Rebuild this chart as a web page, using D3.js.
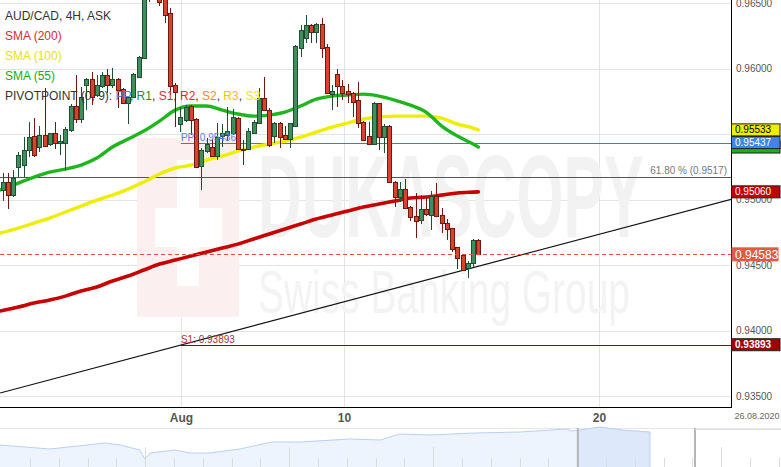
<!DOCTYPE html>
<html><head><meta charset="utf-8">
<script src="https://cdn.jsdelivr.net/npm/d3@7"></script>
<style>body{margin:0;background:#fff}svg{display:block;font-family:"Liberation Sans",Arial,sans-serif}</style>
</head><body><svg id="c" width="781" height="467"></svg>
<script>
// ---- DATA ----
const openP  = [0.95074,0.95135,0.95035,0.95242,0.95264,0.95379,0.95486,0.95402,0.95493,0.95425,0.95509,0.95432,0.95432,0.95532,0.95715,0.95616,0.95875,0.95921,0.95799,0.95867,0.95951,0.95875,0.95921,0.95845,0.95738,0.95783,0.95936,0.96081,0.96555,0.96677,0.96616,0.96539,0.96425,0.95875,0.95577,0.95608,0.95715,0.95616,0.95257,0.95371,0.95402,0.95333,0.95486,0.95493,0.95509,0.95623,0.95387,0.95387,0.95509,0.95585,0.95776,0.95684,0.95486,0.95585,0.95493,0.95463,0.95562,0.96158,0.96234,0.96333,0.96280,0.96341,0.96165,0.95806,0.95959,0.95867,0.95829,0.95814,0.95761,0.95593,0.95486,0.95425,0.95738,0.95471,0.95562,0.95135,0.95020,0.95081,0.94944,0.94875,0.94845,0.94929,0.94883,0.95028,0.94883,0.94822,0.94783,0.94638,0.94577,0.94471,0.94516,0.94692];
const closeP = [0.95135,0.95035,0.95165,0.95341,0.95379,0.95478,0.95341,0.95493,0.95409,0.95509,0.95432,0.95448,0.95539,0.95715,0.95616,0.95783,0.95921,0.95783,0.95875,0.95951,0.95875,0.95921,0.95837,0.95738,0.95783,0.95959,0.96089,0.96539,0.96677,0.96616,0.96509,0.96409,0.95867,0.95822,0.95631,0.95707,0.95608,0.95249,0.95379,0.95425,0.95333,0.95471,0.95509,0.95524,0.95631,0.95387,0.95379,0.95524,0.95593,0.95776,0.95684,0.95417,0.95585,0.95478,0.95463,0.95585,0.96173,0.96295,0.96333,0.96280,0.96341,0.96158,0.95814,0.95829,0.95867,0.95814,0.95806,0.95745,0.95585,0.95455,0.95425,0.95738,0.95471,0.95562,0.95135,0.95020,0.95081,0.94936,0.94867,0.94837,0.94929,0.94890,0.95028,0.94875,0.94822,0.94776,0.94623,0.94554,0.94463,0.94516,0.94692,0.94583];
const highP  = [0.95203,0.95203,0.95226,0.95364,0.95478,0.95593,0.95623,0.95562,0.95852,0.95509,0.95593,0.95493,0.95555,0.95730,0.95951,0.95860,0.95929,0.95974,0.95951,0.95974,0.95997,0.96005,0.95929,0.95852,0.95791,0.95967,0.96097,0.96562,0.96753,0.96753,0.96646,0.96585,0.96463,0.95890,0.95707,0.95722,0.95722,0.95623,0.95394,0.95471,0.95463,0.95585,0.95577,0.95707,0.95692,0.95631,0.95455,0.95547,0.95608,0.95852,0.95936,0.95700,0.95593,0.95593,0.95562,0.95585,0.96181,0.96333,0.96409,0.96341,0.96348,0.96387,0.96188,0.95875,0.95997,0.95913,0.95883,0.95822,0.95898,0.95600,0.95593,0.95745,0.95738,0.95577,0.95570,0.95142,0.95135,0.95158,0.94951,0.95051,0.95035,0.95013,0.95066,0.95127,0.94936,0.94852,0.94783,0.94638,0.94585,0.94532,0.94700,0.94700];
const lowP   = [0.94990,0.94929,0.95020,0.95173,0.95173,0.95326,0.95326,0.95364,0.95402,0.95409,0.95387,0.95341,0.95226,0.95516,0.95585,0.95585,0.95684,0.95722,0.95783,0.95852,0.95814,0.95852,0.95700,0.95730,0.95577,0.95776,0.95929,0.96074,0.96509,0.96585,0.96478,0.96348,0.95799,0.95555,0.95516,0.95593,0.95493,0.95242,0.95074,0.95356,0.95326,0.95303,0.95402,0.95455,0.95493,0.95379,0.95264,0.95379,0.95509,0.95577,0.95677,0.95402,0.95432,0.95394,0.95455,0.95394,0.95555,0.96089,0.96196,0.96196,0.96196,0.96081,0.95806,0.95684,0.95707,0.95761,0.95738,0.95631,0.95547,0.95448,0.95417,0.95417,0.95379,0.95356,0.95127,0.94944,0.94982,0.94929,0.94837,0.94707,0.94814,0.94875,0.94768,0.94867,0.94745,0.94692,0.94600,0.94471,0.94455,0.94402,0.94486,0.94577];

const smaIdx = [-0.5,3,6,9,12,15,18,21,24,27,30,33,36,39,42,45,48,51,54,57,60,63,66,69,72,75,78,81,84,87,90,91];
const sma200 = [0.94150,0.94180,0.94211,0.94234,0.94264,0.94303,0.94333,0.94379,0.94417,0.94463,0.94509,0.94539,0.94570,0.94600,0.94631,0.94661,0.94700,0.94738,0.94776,0.94814,0.94852,0.94883,0.94913,0.94944,0.94967,0.94990,0.95013,0.95020,0.95035,0.95051,0.95058,0.95060];
const sma100 = [0.94745,0.94783,0.94822,0.94860,0.94906,0.94951,0.94997,0.95035,0.95081,0.95135,0.95196,0.95242,0.95264,0.95303,0.95333,0.95371,0.95402,0.95425,0.95448,0.95478,0.95516,0.95554,0.95585,0.95616,0.95631,0.95638,0.95638,0.95638,0.95623,0.95577,0.95547,0.95533];
const sma55  = [0.95074,0.95127,0.95173,0.95211,0.95234,0.95264,0.95318,0.95402,0.95463,0.95524,0.95600,0.95684,0.95715,0.95715,0.95684,0.95654,0.95638,0.95646,0.95669,0.95715,0.95768,0.95791,0.95799,0.95806,0.95791,0.95761,0.95722,0.95669,0.95562,0.95486,0.95425,0.95402];

const yTicks = [0.935,0.940,0.945,0.950,0.955,0.960,0.965];
const xTickIdx = [34.1,65.3,114.1];
const xTickLabels = ["Aug","10","20"];
const pivotPP = 0.95436, pivotS1 = 0.93893, fib618 = 0.9517;
const trendIdx = [-0.5,139.4], trendVal = [0.93525,0.95003];
const lastPrice = 0.94583;
const navT = [0,7.7,16.2,18.5,21.5,22.3,23.1,26.9,29.2,32.3,36.9,41.8,46.2,53.8,58.5,61.5,66.2,73.1,80,87.2,88,89.2,92.3,95.8,100];
const navV = [22,18,24,22,17,8,14,17,14,14,18,25,25,28,27,33,32,34,35,38,36,37,40,37,35];
const navWindow = [88.9,100];

// ---- LAYOUT ----
const W=781,H=467, PR=731, PB=407;
const svg=d3.select("#c");
const x=d3.scaleLinear().domain([0,91]).range([2.7,478.3]);
const y=d3.scaleLinear().domain([0.935,0.965]).range([396.2,3.2]);

svg.append("defs").append("clipPath").attr("id","pc").append("rect").attr("x",0).attr("y",0).attr("width",PR).attr("height",PB);

// grid
const grid=svg.append("g").attr("clip-path","url(#pc)");
grid.selectAll(".hg").data(yTicks).join("line").attr("x1",0).attr("x2",PR)
  .attr("y1",d=>Math.round(y(d))+0.5).attr("y2",d=>Math.round(y(d))+0.5).attr("stroke","#e4e4e4");
grid.selectAll(".vg").data(xTickIdx).join("line").attr("y1",0).attr("y2",PB)
  .attr("x1",d=>Math.round(x(d))+0.5).attr("x2",d=>Math.round(x(d))+0.5).attr("stroke","#e4e4e4");

// watermark
const wm=svg.append("g");
wm.append("rect").attr("x",137).attr("y",138).attr("width",102).attr("height",179).attr("fill","#fcefef");
wm.append("rect").attr("x",177).attr("y",160).attr("width",22).attr("height",126).attr("fill","#fff");
wm.append("rect").attr("x",155).attr("y",208).attr("width",67).attr("height",39).attr("fill","#fff");
wm.append("text").attr("x",258).attr("y",237).attr("font-size",117).attr("font-weight",900)
  .attr("textLength",386).attr("lengthAdjust","spacingAndGlyphs").attr("fill","#f2f2f2").text("DUKASCOPY");
wm.append("text").attr("x",258).attr("y",313).attr("font-size",62).attr("font-weight",300)
  .attr("textLength",372).attr("lengthAdjust","spacingAndGlyphs").attr("fill","#f3f3f3").text("Swiss Banking Group");

const plot=svg.append("g").attr("clip-path","url(#pc)");
// fib line
plot.append("line").attr("x1",0).attr("x2",PR).attr("y1",Math.round(y(fib618))+0.5).attr("y2",Math.round(y(fib618))+0.5).attr("stroke","#555");
svg.append("text").attr("x",727).attr("y",Math.round(y(fib618))-3).attr("text-anchor","end").attr("font-size",10).attr("fill","#777").text("61.80 % ("+fib618.toFixed(4)+")");
// pivot lines
const pvX=x(34.1);
plot.append("line").attr("x1",pvX).attr("x2",PR).attr("y1",Math.round(y(pivotPP))+0.5).attr("y2",Math.round(y(pivotPP))+0.5).attr("stroke","#3c78d8");
plot.append("line").attr("x1",pvX).attr("x2",PR).attr("y1",Math.round(y(pivotS1))+0.5).attr("y2",Math.round(y(pivotS1))+0.5).attr("stroke","#a00000");
svg.append("text").attr("x",pvX).attr("y",Math.round(y(pivotPP))-2).attr("font-size",10).attr("fill","#4a86e8").text("PP: "+pivotPP.toFixed(5));
svg.append("text").attr("x",pvX).attr("y",Math.round(y(pivotS1))-2).attr("font-size",10).attr("fill","#b03030").text("S1: "+pivotS1.toFixed(5));
// trend line
plot.append("line").attr("x1",x(trendIdx[0])).attr("x2",x(trendIdx[1])).attr("y1",y(trendVal[0])).attr("y2",y(trendVal[1])).attr("stroke","#111").attr("stroke-width",1.1);

// SMAs
const ln=d3.line().x((d,i)=>x(smaIdx[i])).y(d=>y(d)).curve(d3.curveMonotoneX);
plot.append("path").attr("d",ln(sma200)).attr("fill","none").attr("stroke","#c80000").attr("stroke-width",3.6).attr("stroke-linecap","round");
plot.append("path").attr("d",ln(sma100)).attr("fill","none").attr("stroke","#eeee00").attr("stroke-width",3.4).attr("stroke-linecap","round");
plot.append("path").attr("d",ln(sma55)).attr("fill","none").attr("stroke","#1fb51f").attr("stroke-width",3.4).attr("stroke-linecap","round");

// candles
const cg=plot.append("g").attr("shape-rendering","crispEdges");
const idx=d3.range(openP.length);
cg.selectAll(".w").data(idx).join("line")
  .attr("x1",i=>Math.round(x(i))+0.5).attr("x2",i=>Math.round(x(i))+0.5)
  .attr("y1",i=>y(highP[i])).attr("y2",i=>y(lowP[i]))
  .attr("stroke",i=>closeP[i]>=openP[i]?"#1e4f30":"#6e1a10");
cg.selectAll(".b").data(idx).join("rect")
  .attr("x",i=>Math.round(x(i))-1.5).attr("width",4)
  .attr("y",i=>y(Math.max(openP[i],closeP[i]))).attr("height",i=>Math.max(1,Math.abs(y(openP[i])-y(closeP[i]))))
  .attr("fill",i=>closeP[i]>=openP[i]?"#3f8f5c":"#d8432d")
  .attr("stroke",i=>closeP[i]>=openP[i]?"#1e4f30":"#6e1a10").attr("stroke-width",1);

// last price dashed
plot.append("line").attr("x1",0).attr("x2",PR).attr("y1",Math.round(y(lastPrice))+0.5).attr("y2",Math.round(y(lastPrice))+0.5)
  .attr("stroke","#e0533f").attr("stroke-dasharray","4,3");

// axes frame
svg.append("line").attr("x1",PR+0.5).attr("x2",PR+0.5).attr("y1",0).attr("y2",PB+1).attr("stroke","#000");
svg.append("line").attr("x1",0).attr("x2",PR+1).attr("y1",PB+0.5).attr("y2",PB+0.5).attr("stroke","#000");

// right axis
const ya=svg.append("g").attr("transform",`translate(${PR},0)`)
  .call(d3.axisRight(y).tickValues(yTicks).tickFormat(d3.format(".5f")).tickSize(0).tickPadding(5));
ya.select(".domain").remove();
ya.selectAll("text").attr("font-size",10).attr("fill","#555").attr("font-family","Liberation Sans, Arial, sans-serif");

// bottom axis
const xa=svg.append("g").attr("transform",`translate(0,${PB})`)
  .call(d3.axisBottom(x).tickValues(xTickIdx).tickFormat((d,i)=>xTickLabels[i]).tickSize(0).tickPadding(5));
xa.select(".domain").remove();
xa.selectAll("text").attr("font-size",12).attr("font-weight","bold").attr("fill","#555").attr("font-family","Liberation Sans, Arial, sans-serif").attr("dy","0.85em");
svg.append("text").attr("x",757).attr("y",419).attr("text-anchor","middle").attr("font-size",9).attr("fill","#666").text("26.08.2020");

// value tags
function tag(v,fill,txt,col,opt={}){
  const cy=y(v), h=opt.h||12;
  const g=svg.append("g");
  g.append("rect").attr("x",PR+0.5).attr("y",cy-h/2).attr("width",opt.w||48.5).attr("height",h)
    .attr("fill",fill).attr("stroke",opt.noStroke?"none":"#222").attr("stroke-width",1);
  g.append("text").attr("x",PR+4).attr("y",cy+(opt.fs?4.3:3.6)).attr("font-size",opt.fs||10).attr("fill",col)
    .attr("font-weight",opt.bold?"bold":"normal").text(txt);
}
tag(sma55[sma55.length-1],"#19b019","","#fff");
tag(sma100[sma100.length-1],"#eeee00",sma100[sma100.length-1].toFixed(5),"#000");
tag(pivotPP,"#3d85e8","0.95437","#fff");
tag(sma200[sma200.length-1],"#c00000",sma200[sma200.length-1].toFixed(5),"#fff");
tag(lastPrice,"#df5a47",lastPrice.toFixed(5),"#fff",{h:14,fs:12,noStroke:true,w:47});
tag(pivotS1,"#a00000",pivotS1.toFixed(5),"#fff",{bold:true});

// legend
const lg=svg.append("g").attr("font-size",12);
lg.append("text").attr("x",5).attr("y",20).attr("fill","#333").text("AUD/CAD, 4H, ASK");
lg.append("text").attr("x",5).attr("y",40).attr("fill","#d03030").text("SMA (200)");
lg.append("text").attr("x",5).attr("y",60).attr("fill","#e6e600").text("SMA (100)");
lg.append("text").attr("x",5).attr("y",79.5).attr("fill","#22aa22").text("SMA (55)");
const pt=lg.append("text").attr("x",5).attr("y",99.5).attr("fill","#333");
const parts=[["PIVOTPOINT (0, 9): ","#333"],["PP","#4a86e8"],[", ","#333"],["R1","#2e8b2e"],[", ","#333"],["S1","#c0392b"],[", ","#333"],["R2","#ff2020"],[", ","#333"],["S2","#ff8c1a"],[", ","#333"],["R3","#ffc000"],[", ","#333"],["S3","#eeee00"]];
parts.forEach(p=>pt.append("tspan").attr("fill",p[1]).text(p[0]));

// navigator
const nv=svg.append("g");
nv.append("line").attr("x1",0).attr("x2",W).attr("y1",428.5).attr("y2",428.5).attr("stroke","#e6e6e6");
const nx=d3.scaleLinear().domain([0,100]).range([0,650]);
const ny=d3.scaleLinear().domain([0,40]).range([467,427]);
const ar=d3.area().x((d,i)=>nx(navT[i])).y0(467).y1(d=>ny(d));
nv.append("path").attr("d",ar(navV)).attr("fill","#eef4fd");
nv.append("clipPath").attr("id","nw").append("rect").attr("x",nx(navWindow[0])).attr("y",420).attr("width",nx(navWindow[1])-nx(navWindow[0])).attr("height",50);
nv.append("path").attr("d",ar(navV)).attr("fill","#dde8fb").attr("clip-path","url(#nw)");
nv.append("path").attr("d",d3.line().x((d,i)=>nx(navT[i])).y(d=>ny(d))(navV)).attr("fill","none").attr("stroke","#b9d0f5");
nv.append("line").attr("x1",650).attr("x2",650).attr("y1",ny(35)).attr("y2",467).attr("stroke","#b9d0f5");
const tk=d3.range(27).map(k=>30+28.8*k);
nv.selectAll(".t").data(tk).join("line").attr("x1",d=>Math.round(d)+0.5).attr("x2",d=>Math.round(d)+0.5)
  .attr("y1",(d,k)=>k%5===4?447:458).attr("y2",467).attr("stroke","#dcdcdc");
[nx(navWindow[0]),695].forEach(v=>nv.append("rect").attr("x",v-1).attr("y",428).attr("width",2).attr("height",39).attr("fill","#b5b5b5"));
nv.append("line").attr("x1",695).attr("x2",W).attr("y1",429.5).attr("y2",429.5).attr("stroke","#e0e0e0");
</script></body></html>
